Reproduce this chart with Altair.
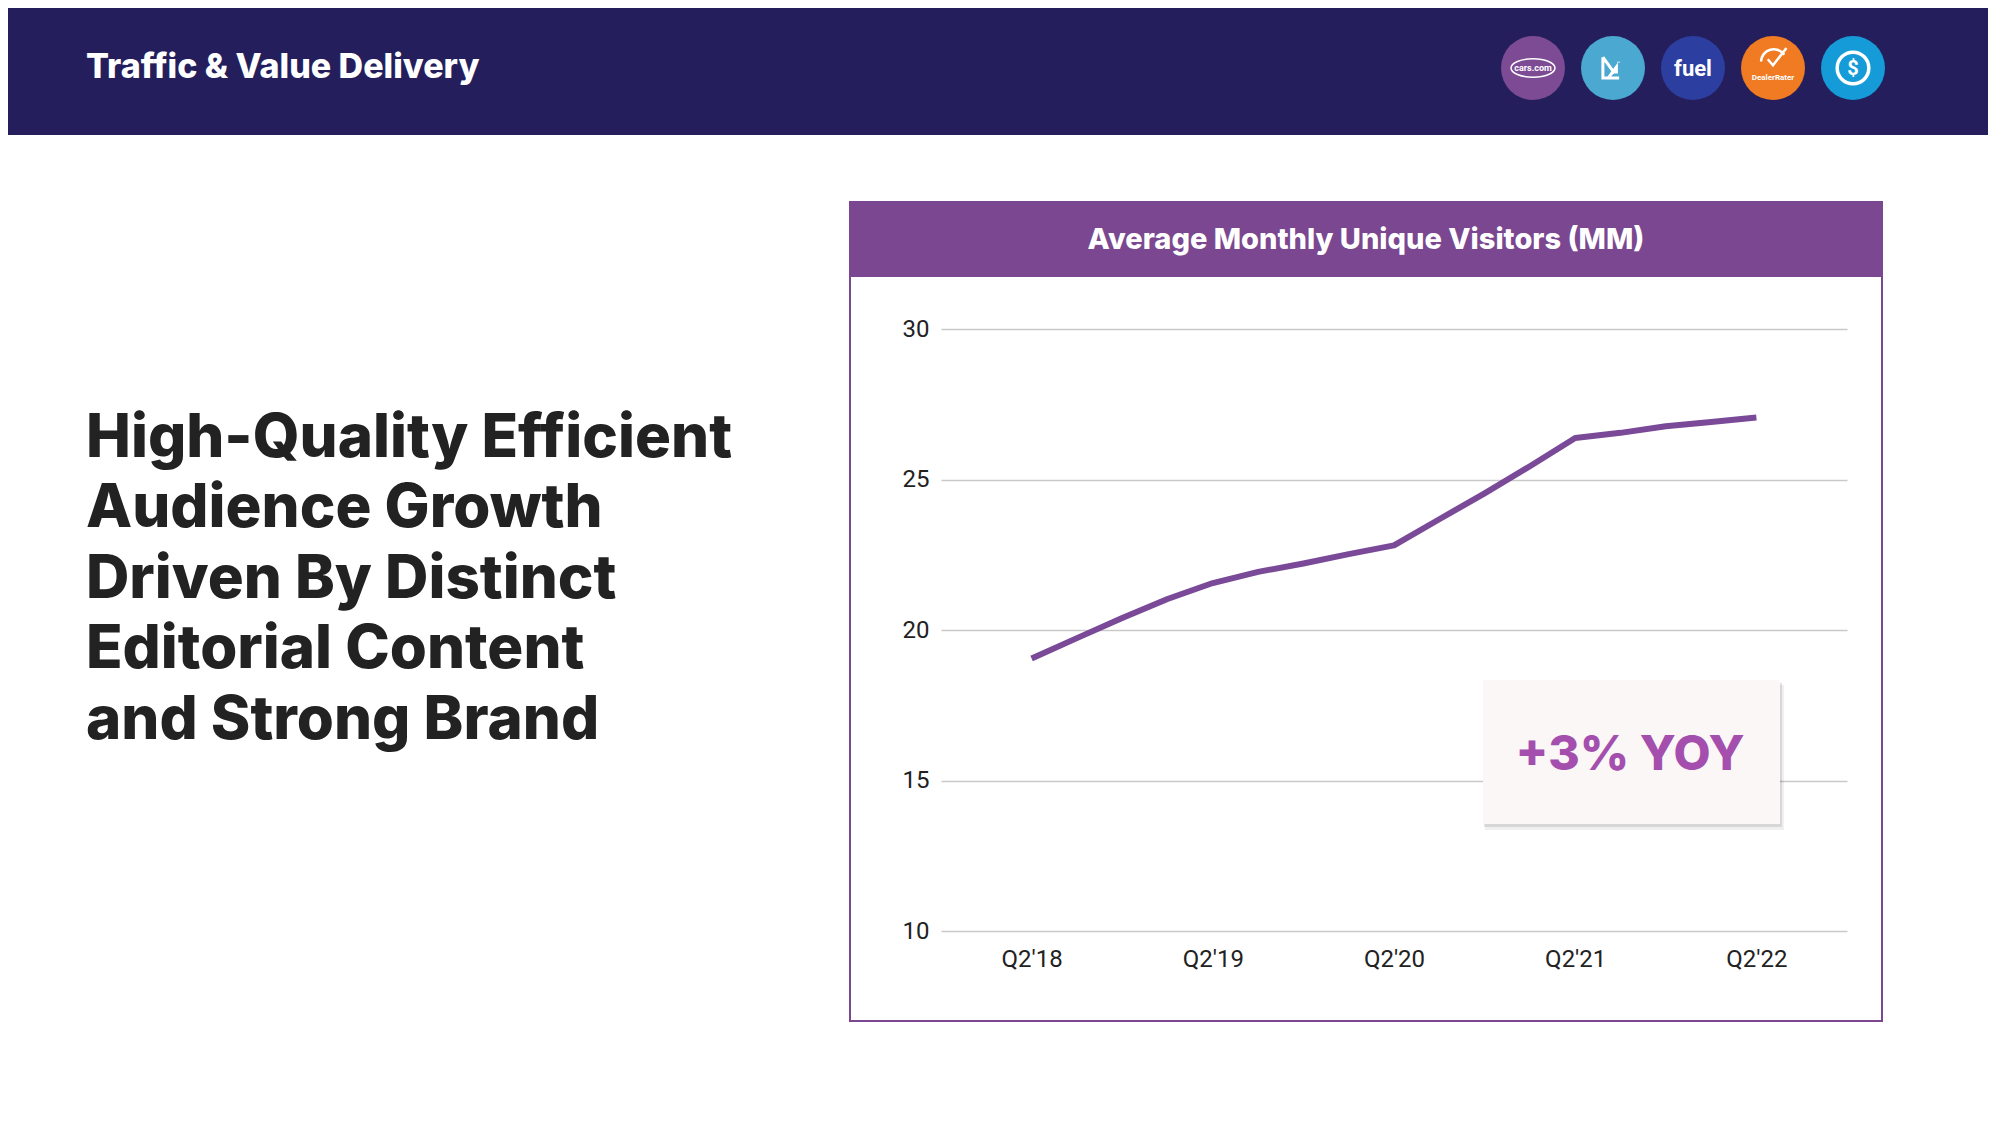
import json
import altair as alt
import pandas as pd

# ---------------- data ----------------
quarters = ["Q2'18", "Q3'18", "Q4'18", "Q1'19", "Q2'19", "Q3'19", "Q4'19", "Q1'20",
            "Q2'20", "Q3'20", "Q4'20", "Q1'21", "Q2'21", "Q3'21", "Q4'21", "Q1'22", "Q2'22"]
visitors = [19.05, 19.73, 20.40, 21.03, 21.56, 21.93, 22.21, 22.52,
            22.81, 23.68, 24.54, 25.44, 26.38, 26.55, 26.77, 26.91, 27.06]
x_tick_labels = ["Q2'18", "Q2'19", "Q2'20", "Q2'21", "Q2'22"]
y_ticks = [10, 15, 20, 25, 30]

header_title = "Traffic & Value Delivery"
headline_lines = ["High-Quality Efficient", "Audience Growth", "Driven By Distinct",
                  "Editorial Content", "and Strong Brand"]
chart_title = "Average Monthly Unique Visitors (MM)"
callout = "+3% YOY"

df = pd.DataFrame({"idx": list(range(len(quarters))), "quarter": quarters,
                   "visitors": visitors})
tick_idx = [quarters.index(q) for q in x_tick_labels]
one = pd.DataFrame({"k": [0]})

# ---------------- layout helpers (page px -> plot px) ----------------
OX, OY = 941, 329          # page position of plot-area origin
PW, PH = 906, 602          # plot area size


def X(p):
    return p - OX


def Y(p):
    return p - OY


def rect(x1, y1, x2, y2, **kw):
    return alt.Chart(one).mark_rect(**kw).encode(
        x=alt.value(X(x1)), x2=alt.value(X(x2)), y=alt.value(Y(y1)), y2=alt.value(Y(y2)))


def text(s, x, y, **kw):
    return alt.Chart(one).mark_text(**kw).encode(
        x=alt.value(X(x)), y=alt.value(Y(y)), text=alt.value(s))


def sym(x, y, **kw):
    return alt.Chart(one).mark_point(**kw).encode(x=alt.value(X(x)), y=alt.value(Y(y)))


layers = []

# header band
layers.append(rect(0, 0, 2000, 135, color="#241f5c"))
layers.append(text(header_title, 86, 78, font="Inter", fontWeight=800, fontSize=34,
                   color="white", align="left", baseline="alphabetic"))

# header icons
icon_x = [1533, 1613, 1693, 1773, 1853]
icon_colors = ["#7d4a94", "#4ba9d1", "#2c3ea0", "#f07b22", "#169bd9"]
for cx, col in zip(icon_x, icon_colors):
    layers.append(sym(cx, 68, shape="circle", size=4096, filled=True, color=col, opacity=1))

# icon 1: cars.com
layers.append(sym(icon_x[0], 68, shape="M -1 0 A 1 0.42 0 1 1 1 0 A 1 0.42 0 1 1 -1 0 Z",
                  size=1936, filled=False, color="white", strokeWidth=1.5, opacity=1))
layers.append(text("cars.com", icon_x[0], 68, font="Roboto", fontWeight="bold", fontSize=9,
                   color="white", align="center", baseline="middle"))
# icon 2: stylised logo
layers.append(sym(icon_x[1] - 2, 68,
                  shape="M -0.45 -0.6 L -0.45 0.55 L 0.45 0.55 M -0.45 -0.6 L 0.2 0.3 M -0.15 0.55 L 0.3 -0.05 L 0.3 0.3 M 0.42 -0.35 L 0.42 -0.3",
                  size=1300, filled=False, color="white", strokeWidth=3, opacity=1))
# icon 3: fuel
layers.append(text("fuel", icon_x[2], 69, font="Roboto", fontWeight="bold", fontSize=22,
                   color="white", align="center", baseline="middle"))
# icon 4: DealerRater
layers.append(sym(icon_x[3], 60, shape="M -0.8 0.1 A 0.85 0.85 0 0 1 0.75 -0.35 M -0.35 -0.05 L 0 0.35 L 0.9 -0.8",
                  size=900, filled=False, color="white", strokeWidth=2.5, opacity=1))
layers.append(text("DealerRater", icon_x[3], 78, font="Roboto", fontWeight="bold", fontSize=8,
                   color="white", align="center", baseline="middle"))
# icon 5: $ ring
layers.append(sym(icon_x[4], 68, shape="circle", size=1000, filled=False, color="white",
                  strokeWidth=3.5, opacity=1))
layers.append(text("$", icon_x[4], 69, font="Roboto", fontWeight="bold", fontSize=20,
                   color="white", align="center", baseline="middle"))

# left headline
for i, line in enumerate(headline_lines):
    layers.append(text(line, 86, 457 + i * 70.4, font="Inter", fontWeight=800, fontSize=60,
                       color="#222222", align="left", baseline="alphabetic"))

# chart panel
layers.append(rect(850, 202, 1882, 1021, fill="white", fillOpacity=0, stroke="#7a4790",
                   strokeWidth=2))
layers.append(rect(849, 201, 1883, 277, color="#7a4790"))
layers.append(text(chart_title, 1366, 249, font="Inter", fontWeight=800, fontSize=29,
                   color="white", align="center", baseline="alphabetic"))

# line series (two empty quarter steps on each side of the series)
label_expr = json.dumps(x_tick_labels) + "[datum.value / 4]"
line = alt.Chart(df).mark_line(color="#7a4a98", strokeWidth=6, strokeCap="butt",
                               strokeJoin="round").encode(
    x=alt.X("idx:Q",
            scale=alt.Scale(domain=[-2, len(quarters) + 1], nice=False, zero=False),
            axis=alt.Axis(values=tick_idx, labelExpr=label_expr, title=None, labelAngle=0,
                          ticks=False, domain=False, grid=False, labelFont="Roboto",
                          labelFontSize=24, labelColor="#222222", labelPadding=16,
                          labelOverlap=False, labelFlush=False)),
    y=alt.Y("visitors:Q", scale=alt.Scale(domain=[10, 30]),
            axis=alt.Axis(values=y_ticks, title=None, ticks=False, domain=False,
                          gridColor="#c9c9c9", gridWidth=1.5, labelFont="Roboto",
                          labelFontSize=24, labelColor="#222222", labelPadding=12)),
)
layers.append(line)

# callout box with shadow
layers.append(rect(1485, 685, 1784, 830, color="black", opacity=0.06))
layers.append(rect(1484, 683, 1782, 827, color="black", opacity=0.10))
layers.append(rect(1483, 680, 1780, 824, color="#faf7f6"))
layers.append(text(callout, 1630, 770, font="Inter", fontWeight=800, fontSize=48,
                   color="#a44fae", align="center", baseline="alphabetic"))

chart = alt.layer(*layers).properties(
    width=PW, height=PH,
    padding={"left": 933, "top": 321, "right": 141, "bottom": 177},
    autosize=alt.AutoSizeParams(type="none"),
    background="white",
).configure_view(stroke=None)

chart.save("out.html", embed_options={"renderer": "svg", "actions": False})
